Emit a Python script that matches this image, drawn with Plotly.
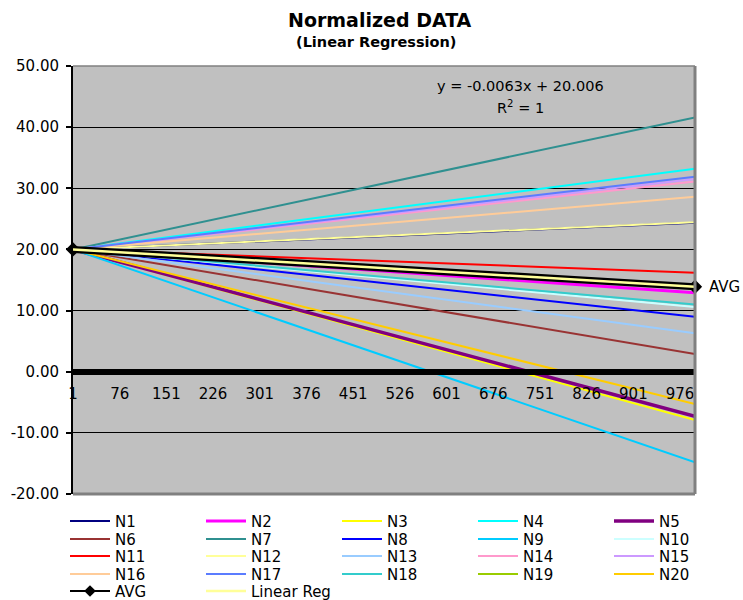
import plotly.graph_objects as go

# ---------------- data ----------------
X_OBS = [1, 1000]                      # first and last observation index

N1 = [20.0, 24.35]
N2 = [20.0, 12.9]
N3 = [20.0, -7.9]
N4 = [20.0, 33.2]
N5 = [20.0, -7.3]
N6 = [20.0, 2.9]
N7 = [20.0, 41.6]
N8 = [20.0, 9.0]
N9 = [20.0, -14.8]
N10 = [20.0, 10.6]
N11 = [20.0, 16.2]
N12 = [20.0, 24.45]
N13 = [20.0, 6.3]
N14 = [20.0, 31.1]
N15 = [20.0, 31.5]
N16 = [20.0, 28.6]
N17 = [20.0, 31.9]
N18 = [20.0, 11.0]
N19 = [20.0, 13.9]
N20 = [20.0, -5.3]
AVG = [20.0, 13.9]
LINEAR_REG = [20.0, 13.9]

SERIES_NAMES = ["N%d" % i for i in range(1, 21)]
SERIES_VALUES = [N1, N2, N3, N4, N5, N6, N7, N8, N9, N10,
                 N11, N12, N13, N14, N15, N16, N17, N18, N19, N20]

X_TICKS = [1, 76, 151, 226, 301, 376, 451, 526, 601, 676, 751, 826, 901, 976]
X_TICK_LABELS = ["1", "76", "151", "226", "301", "376", "451", "526", "601",
                 "676", "751", "826", "901", "976"]
Y_TICKS = [-20, -10, 0, 10, 20, 30, 40, 50]
Y_TICK_LABELS = ["-20.00", "-10.00", "0.00", "10.00", "20.00", "30.00", "40.00", "50.00"]

EQUATION = "y = -0.0063x + 20.006"
R_SQUARED = "R<sup>2</sup> = 1"

# ---------------- styles ----------------
COLORS = ["#000080", "#FF00FF", "#FFFF00", "#00FFFF", "#800080",
          "#993333", "#2F9090", "#0000FF", "#00CCFF", "#CCFFFF",
          "#FF0000", "#FFFF99", "#99CCFF", "#FF99CC", "#CC99FF",
          "#FFCC99", "#5B7CFF", "#33CCCC", "#99CC00", "#FFCC00"]
WIDTHS = [2, 3, 2, 2, 3.5, 2, 2, 2, 2, 2, 2, 2, 2, 2, 2, 2, 2, 2, 2, 2]
FONT = "DejaVu Sans"

W, H = 743, 600
ML, MR, MT, MB = 73, 48, 66, 106
PH = H - MT - MB
PW = W - ML - MR

LEGEND_ROW_CENTERS = [521, 539, 556, 574, 591]
LEGEND_FONT = 15
item_h = max(LEGEND_FONT * 1.3, 16) + 3


def py2paper(py):
    return 1 - (py - MT) / PH


def px2paper(px):
    return (px - ML) / PW


legend_ids = ["legend", "legend2", "legend3", "legend4", "legend5"]

fig = go.Figure()

for i, (name, vals) in enumerate(zip(SERIES_NAMES, SERIES_VALUES)):
    fig.add_trace(go.Scatter(
        x=X_OBS, y=vals, name=name, mode="lines",
        line=dict(color=COLORS[i], width=WIDTHS[i]),
        legend=legend_ids[i // 5], hoverinfo="skip"))

# AVG: thick black band (no legend) + thin legend entry with diamond markers
fig.add_trace(go.Scatter(
    x=X_OBS, y=AVG, mode="lines+markers", showlegend=False,
    line=dict(color="black", width=7),
    marker=dict(symbol="diamond", size=11, color="black"),
    cliponaxis=False, hoverinfo="skip"))
fig.add_trace(go.Scatter(
    x=X_OBS, y=AVG, name="AVG", mode="lines+markers",
    line=dict(color="black", width=2),
    marker=dict(symbol="diamond", size=9, color="black"),
    legend="legend5", cliponaxis=False, hoverinfo="skip"))
fig.add_trace(go.Scatter(
    x=X_OBS, y=LINEAR_REG, name="Linear Reg", mode="lines",
    line=dict(color="#FFFF99", width=2.5),
    legend="legend5", hoverinfo="skip"))

# legends: one per row
legend_layout = {}
for k, lid in enumerate(legend_ids):
    top_py = LEGEND_ROW_CENTERS[k] - item_h / 2 - 5
    legend_layout[lid] = dict(
        orientation="h", x=px2paper(65), xanchor="left",
        y=py2paper(top_py), yanchor="top",
        entrywidth=81, entrywidthmode="pixels", itemwidth=40,
        bgcolor="rgba(0,0,0,0)", borderwidth=0,
        font=dict(family=FONT, size=LEGEND_FONT, color="black"),
        traceorder="normal")

x_axis_pos = (0 - Y_TICKS[0]) / (Y_TICKS[-1] - Y_TICKS[0])

fig.update_layout(
    width=W, height=H,
    margin=dict(l=ML, r=MR, t=MT, b=MB, autoexpand=False),
    paper_bgcolor="white", plot_bgcolor="#C0C0C0",
    font=dict(family=FONT, color="black"),
    xaxis=dict(range=[X_OBS[0], X_OBS[-1]], tickvals=X_TICKS, ticktext=X_TICK_LABELS,
               showgrid=False, zeroline=False, showline=True, linecolor="black",
               linewidth=6, anchor="free", position=x_axis_pos, ticks="",
               ticklabelstandoff=6,
               tickfont=dict(family=FONT, size=15, color="black")),
    yaxis=dict(range=[Y_TICKS[0], Y_TICKS[-1]], tickvals=Y_TICKS, ticktext=Y_TICK_LABELS,
               showgrid=True, gridcolor="black", gridwidth=1, zeroline=False,
               showline=True, linecolor="black", linewidth=2,
               ticks="outside", ticklen=5, tickwidth=1.5, tickcolor="black",
               ticklabelstandoff=4,
               tickfont=dict(family=FONT, size=15, color="black")),
    showlegend=True,
    **legend_layout,
)

# plot-area border (top, right, bottom)
fig.add_shape(type="line", xref="paper", yref="paper", x0=0, x1=1, y0=1, y1=1,
              line=dict(color="#808080", width=1.5), layer="above")
fig.add_shape(type="line", xref="paper", yref="paper", x0=1, x1=1, y0=0, y1=1,
              line=dict(color="#808080", width=3), layer="above")
fig.add_shape(type="line", xref="paper", yref="paper", x0=0, x1=1, y0=0, y1=0,
              line=dict(color="#808080", width=3), layer="above")

# titles
fig.add_annotation(text="<b>Normalized DATA</b>", xref="paper", yref="paper",
                   x=px2paper(380), y=py2paper(20), xanchor="center", yanchor="middle",
                   showarrow=False, font=dict(family=FONT, size=19, color="black"))
fig.add_annotation(text="<b>(Linear Regression)</b>", xref="paper", yref="paper",
                   x=px2paper(376), y=py2paper(42), xanchor="center", yanchor="middle",
                   showarrow=False, font=dict(family=FONT, size=14.5, color="black"))

# trendline equation
fig.add_annotation(text=EQUATION, xref="paper", yref="paper",
                   x=px2paper(520), y=py2paper(86), xanchor="center", yanchor="middle",
                   showarrow=False, font=dict(family=FONT, size=14.5, color="black"))
fig.add_annotation(text=R_SQUARED, xref="paper", yref="paper",
                   x=px2paper(520), y=py2paper(107), xanchor="center", yanchor="middle",
                   showarrow=False, font=dict(family=FONT, size=14.5, color="black"))

# AVG data label at last point
fig.add_annotation(text="AVG", x=X_OBS[-1], y=AVG[-1], xref="x", yref="y",
                   xanchor="left", yanchor="middle", xshift=12, showarrow=False,
                   font=dict(family=FONT, size=15, color="black"))

fig.write_html(
    "out.html",
    config={"displayModeBar": False},
    post_script="document.body.style.margin='0px';document.body.style.overflow='hidden';",
)
